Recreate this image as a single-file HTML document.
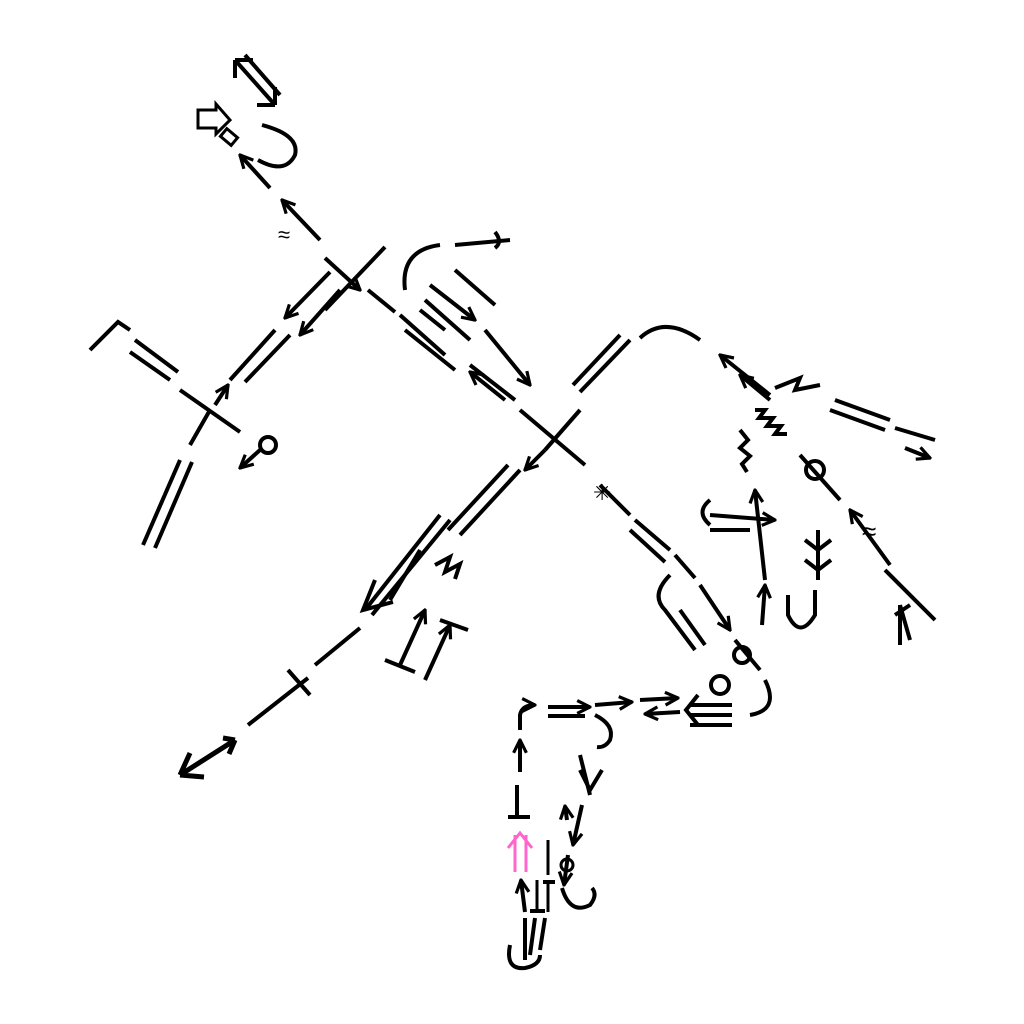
<!DOCTYPE html>
<html><head><meta charset="utf-8"><style>
html,body{margin:0;padding:0;background:#fff;width:1024px;height:1024px;overflow:hidden}
svg{display:block}
text{font-family:"Liberation Sans","DejaVu Sans",sans-serif}
</style></head><body>
<svg width="1024" height="1024" viewBox="0 0 1024 1024" xmlns="http://www.w3.org/2000/svg">
<defs>
<marker id="a" viewBox="0 0 10 10" refX="9" refY="5" markerWidth="4" markerHeight="4" orient="auto"><path d="M1,1 L9,5 L1,9" fill="none" stroke="#000" stroke-width="2"/></marker>
</defs>
<g stroke="#000" stroke-width="4" fill="none" stroke-linecap="butt">
<!-- top-left chain -->
<line x1="320" y1="240" x2="282" y2="200" marker-end="url(#a)"/>
<line x1="270" y1="188" x2="240" y2="155" marker-end="url(#a)"/>
<path d="M262 125 Q300 135 295 155 Q285 175 258 160"/>
<path d="M235 60 L275 105 M235 60 l18 0 M235 60 l0 18 M275 105 l-18 0 M275 105 l0 -18 M245 55 L280 95"/>
<path d="M198 110 l18 0 l0 -6 l14 16 l-14 14 l0 -6 l-18 0 z" stroke-width="3"/>
<rect x="222" y="132" width="14" height="10" stroke-width="3" transform="rotate(40 229 137)"/>
<text x="278" y="242" font-size="22" fill="#000" stroke="none">≈</text>
<!-- center cross -->
<line x1="385" y1="247" x2="325" y2="310"/>
<line x1="325" y1="258" x2="360" y2="290" marker-end="url(#a)"/>
<line x1="368" y1="290" x2="395" y2="312"/>
<line x1="330" y1="272" x2="285" y2="318" marker-end="url(#a)"/>
<line x1="340" y1="290" x2="300" y2="335" marker-end="url(#a)"/>
<line x1="230" y1="380" x2="275" y2="330"/>
<line x1="245" y1="382" x2="290" y2="335"/>
<line x1="180" y1="390" x2="240" y2="432"/>
<path d="M90 350 L118 322 L130 330"/>
<line x1="135" y1="340" x2="178" y2="372"/>
<line x1="130" y1="352" x2="170" y2="380"/>
<line x1="190" y1="445" x2="210" y2="410"/>
<line x1="215" y1="405" x2="228" y2="385" marker-end="url(#a)"/>
<line x1="143" y1="545" x2="180" y2="460"/>
<line x1="155" y1="548" x2="192" y2="462"/>
<circle cx="268" cy="445" r="8"/>
<line x1="260" y1="450" x2="240" y2="468" marker-end="url(#a)"/>
<!-- main diagonal -->
<line x1="405" y1="330" x2="455" y2="370"/>
<line x1="400" y1="315" x2="445" y2="355"/>
<line x1="470" y1="365" x2="515" y2="400" />
<line x1="520" y1="410" x2="585" y2="465"/>
<line x1="505" y1="400" x2="470" y2="372" marker-end="url(#a)"/>
<path d="M440 245 Q400 250 405 290"/>
<line x1="455" y1="245" x2="510" y2="240"/>
<path d="M495 232 q8 10 0 16"/>
<line x1="455" y1="270" x2="495" y2="305"/>
<line x1="430" y1="285" x2="475" y2="320" marker-end="url(#a)"/>
<line x1="485" y1="330" x2="530" y2="385" marker-end="url(#a)"/>
<line x1="425" y1="300" x2="470" y2="340"/>
<line x1="420" y1="310" x2="445" y2="330"/>
<line x1="630" y1="340" x2="580" y2="392"/>
<line x1="620" y1="335" x2="573" y2="385"/>
<path d="M640 338 Q665 315 700 340"/>
<line x1="580" y1="410" x2="545" y2="450"/>
<line x1="545" y1="450" x2="525" y2="470" marker-end="url(#a)"/>
<!-- lower-left diagonal -->
<line x1="520" y1="470" x2="460" y2="535"/>
<line x1="508" y1="465" x2="448" y2="530"/>
<line x1="450" y1="520" x2="372" y2="615"/>
<line x1="440" y1="515" x2="365" y2="610"/>
<path d="M375 580 l-12 30 l30 -8"/>
<line x1="420" y1="550" x2="390" y2="600"/>
<path d="M435 565 l15 -8 l-5 15 l15 -8 l-5 15"/>
<line x1="360" y1="628" x2="315" y2="665"/>
<line x1="308" y1="678" x2="248" y2="725"/>
<line x1="288" y1="670" x2="310" y2="695"/>
<path d="M180 775 l55 -35 M180 775 l10 -22 M180 775 l24 2 M235 740 l-12 -2 M235 740 l-6 14" stroke-width="5"/>
<line x1="400" y1="665" x2="425" y2="610" marker-end="url(#a)"/>
<line x1="425" y1="680" x2="450" y2="625" marker-end="url(#a)"/>
<line x1="385" y1="660" x2="415" y2="672"/>
<line x1="440" y1="620" x2="468" y2="630"/>
<!-- right diagonal -->
<line x1="600" y1="485" x2="630" y2="515"/>
<text x="593" y="500" font-size="22" fill="#000" stroke="none">✳</text>
<line x1="635" y1="520" x2="670" y2="550"/>
<line x1="630" y1="530" x2="665" y2="562"/>
<line x1="675" y1="555" x2="695" y2="578"/>
<path d="M670 575 Q650 595 665 610 L695 650"/>
<line x1="680" y1="610" x2="705" y2="645"/>
<line x1="700" y1="585" x2="730" y2="630" marker-end="url(#a)"/>
<line x1="735" y1="640" x2="760" y2="670"/>
<circle cx="742" cy="655" r="8"/>
<circle cx="720" cy="685" r="9"/>
<path d="M765 680 Q780 710 750 715"/>
<!-- right cluster -->
<line x1="770" y1="395" x2="720" y2="355" marker-end="url(#a)"/>
<path d="M775 388 l25 -10 l-5 12 l25 -5"/>
<line x1="835" y1="400" x2="890" y2="420"/>
<line x1="830" y1="410" x2="885" y2="430"/>
<line x1="895" y1="428" x2="935" y2="440"/>
<line x1="905" y1="448" x2="930" y2="458" marker-end="url(#a)"/>
<line x1="770" y1="400" x2="740" y2="375" marker-end="url(#a)"/>
<path d="M755 410 l10 0 l-6 8 l14 0 l-6 8 l14 0 l-6 8 l12 0"/>
<line x1="800" y1="455" x2="840" y2="500"/>
<circle cx="815" cy="470" r="9"/>
<path d="M740 430 l8 10 l-8 8 l10 8 l-8 8 l5 8"/>
<line x1="765" y1="580" x2="755" y2="490" marker-end="url(#a)"/>
<line x1="710" y1="515" x2="775" y2="520" marker-end="url(#a)"/>
<line x1="710" y1="530" x2="750" y2="530"/>
<path d="M710 500 q-15 12 0 25"/>
<line x1="818" y1="530" x2="818" y2="580"/>
<path d="M805 540 l13 10 l13 -10 M805 560 l13 10 l13 -10"/>
<line x1="762" y1="625" x2="765" y2="585" marker-end="url(#a)"/>
<path d="M788 595 L788 615 Q800 640 815 615 L815 590"/>
<line x1="890" y1="565" x2="850" y2="510" marker-end="url(#a)"/>
<text x="862" y="540" font-size="26" fill="#000" stroke="none">≈</text>
<line x1="935" y1="620" x2="885" y2="570"/>
<path d="M900 645 l0 -40 M910 640 l-10 -35 M895 615 l15 -10"/>
<!-- bottom chain -->
<path d="M520 730 L520 715 Q522 705 535 705" marker-end="url(#a)"/>
<line x1="548" y1="707" x2="590" y2="707" marker-end="url(#a)"/>
<line x1="548" y1="716" x2="585" y2="716"/>
<line x1="595" y1="705" x2="632" y2="702" marker-end="url(#a)"/>
<line x1="640" y1="700" x2="678" y2="698" marker-end="url(#a)"/>
<line x1="680" y1="712" x2="645" y2="714" marker-end="url(#a)"/>
<line x1="690" y1="705" x2="732" y2="705"/>
<line x1="690" y1="715" x2="732" y2="715"/>
<line x1="690" y1="725" x2="732" y2="725"/>
<path d="M698 695 l-12 15 l12 15"/>
<path d="M595 715 Q615 725 610 740 Q605 748 597 747"/>
<line x1="580" y1="755" x2="590" y2="795"/>
<path d="M580 770 l10 20 l12 -20"/>
<line x1="582" y1="805" x2="573" y2="845" marker-end="url(#a)"/>
<line x1="567" y1="820" x2="565" y2="806" marker-end="url(#a)"/>
<line x1="520" y1="772" x2="520" y2="740" marker-end="url(#a)"/>
<line x1="517" y1="785" x2="517" y2="815"/>
<line x1="508" y1="817" x2="530" y2="817"/>
<line x1="548" y1="840" x2="548" y2="875" stroke-width="3"/>
<line x1="568" y1="855" x2="564" y2="885" marker-end="url(#a)"/>
<circle cx="567" cy="865" r="6" stroke-width="3"/>
<path d="M562 888 Q570 915 590 905 Q598 895 592 888"/>
<line x1="525" y1="912" x2="521" y2="880" marker-end="url(#a)"/>
<line x1="537" y1="880" x2="537" y2="910" stroke-width="3"/>
<line x1="530" y1="911" x2="545" y2="911"/>
<line x1="548" y1="912" x2="548" y2="882" stroke-width="3"/>
<line x1="543" y1="882" x2="555" y2="882"/>
<line x1="525" y1="918" x2="525" y2="960"/>
<line x1="535" y1="918" x2="530" y2="955"/>
<line x1="545" y1="918" x2="540" y2="950"/>
<path d="M510 945 Q505 970 525 968 Q540 965 540 955"/>
</g>
<g stroke="#ff66cc" stroke-width="3" fill="none">
<line x1="515" y1="872" x2="515" y2="835"/>
<line x1="526" y1="872" x2="526" y2="835"/>
<path d="M508 848 l12 -15 l12 15"/>
</g>
</svg>
</body></html>
